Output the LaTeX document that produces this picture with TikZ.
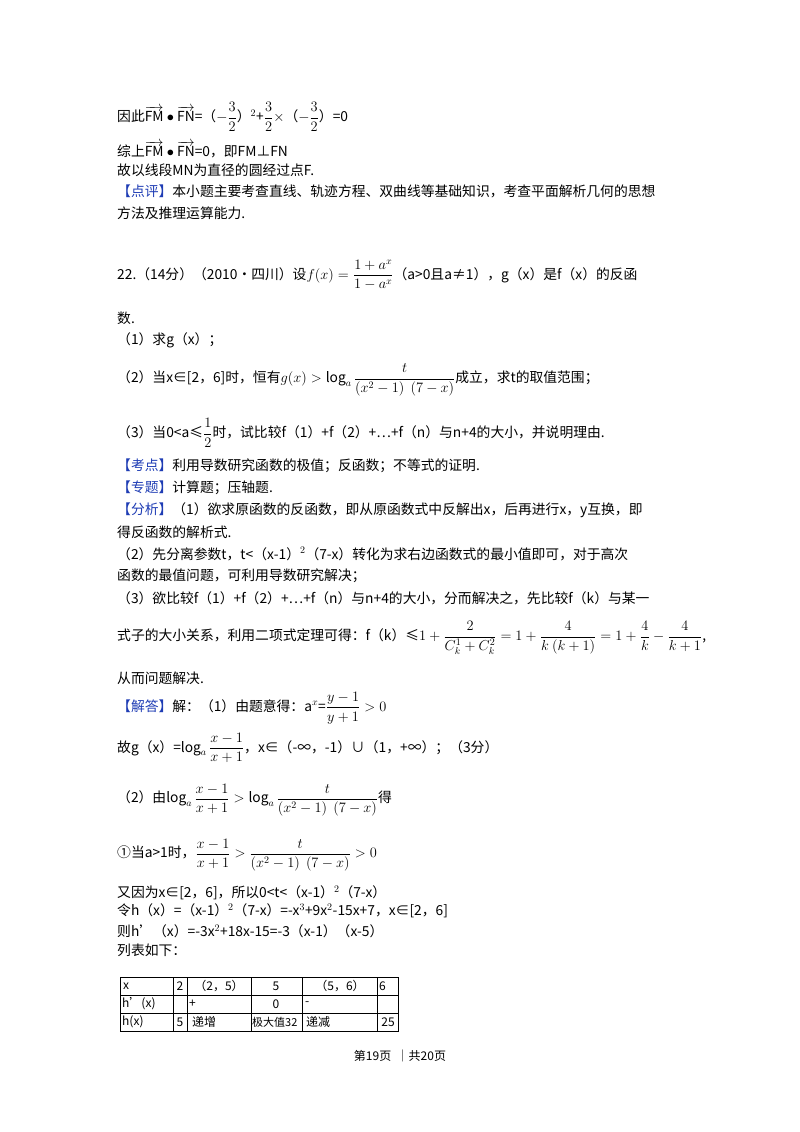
\documentclass[tikz,border=0pt]{standalone}
\usepackage{amsmath}
\usepackage{fontspec}
\setmainfont{Noto Sans CJK SC}
\begin{document}
\begin{tikzpicture}[x=1pt,y=-1pt,
  t/.style={anchor=west,inner sep=0pt,font=\fontsize{13.8}{16}\selectfont},
  tb/.style={anchor=west,inner sep=0pt,font=\fontsize{12}{14}\selectfont},
  c/.style={anchor=center,inner sep=0pt,font=\fontsize{12}{14}\selectfont}]
\useasboundingbox (0,0) rectangle (800,1132);
\newcommand{\fr}[2]{\dfrac{#1}{#2}}
\node[t] (l1) at (117,117) {因此$\overrightarrow{\mathrm{FM}}\bullet\overrightarrow{\mathrm{FN}}$=（$-\fr32$）$^2$+$\fr32\times$（$-\fr32$）=0};
\node[t] (l2) at (117,150) {综上$\overrightarrow{\mathrm{FM}}\bullet\overrightarrow{\mathrm{FN}}$=0，即FM⊥FN};
\node[t] (l3) at (117,170) {故以线段MN为直径的圆经过点F.};
\node[t] (l4) at (117,191) {\color[HTML]{1E3CB4}【点评】\color{black}本小题主要考查直线、轨迹方程、双曲线等基础知识，考查平面解析几何的思想};
\node[t] (l5) at (117,213) {方法及推理运算能力.};
\node[t] (l6) at (117,275) {22.（14分）（2010•四川）设$f(x)=\fr{1+a^x}{1-a^x}$（a>0且a≠1），g（x）是f（x）的反函};
\node[t] (l7) at (117,318) {数.};
\node[t] (l8) at (117,340) {（1）求g（x）；};
\node[t] (l9) at (117,380) {（2）当x∈[2，6]时，恒有$g(x)>\log_a\fr{t}{(x^2-1)\ \ (7-x)}$成立，求t的取值范围；};
\node[t] (l10) at (117,433) {（3）当0<a≤$\fr12$时，试比较f（1）+f（2）+…+f（n）与n+4的大小，并说明理由.};
\node[t] (l11) at (117,466) {\color[HTML]{1E3CB4}【考点】\color{black}利用导数研究函数的极值；反函数；不等式的证明.};
\node[t] (l12) at (117,488) {\color[HTML]{1E3CB4}【专题】\color{black}计算题；压轴题.};
\node[t] (l13) at (117,510) {\color[HTML]{1E3CB4}【分析】\color{black}（1）欲求原函数的反函数，即从原函数式中反解出x，后再进行x，y互换，即};
\node[t] (l14) at (117,532) {得反函数的解析式.};
\node[t] (l15) at (117,554) {（2）先分离参数t，t<（x-1）$^2$（7-x）转化为求右边函数式的最小值即可，对于高次};
\node[t] (l16) at (117,576) {函数的最值问题，可利用导数研究解决；};
\node[t] (l17) at (117,598) {（3）欲比较f（1）+f（2）+…+f（n）与n+4的大小，分而解决之，先比较f（k）与某一};
\node[t] (l18) at (117,638) {式子的大小关系，利用二项式定理可得：f（k）≤$1+\fr{2}{C_k^1+C_k^2}=1+\fr{4}{k\ (k+1)}=1+\fr4k-\fr{4}{k+1}$,};
\node[t] (l19) at (117,678) {从而问题解决.};
\node[t] (l20) at (117,708) {\color[HTML]{1E3CB4}【解答】\color{black}解：（1）由题意得：a$^x$=$\fr{y-1}{y+1}>0$};
\node[t] (l21) at (117,748) {故g（x）=$\log_a\fr{x-1}{x+1}$，x∈（-∞，-1）∪（1，+∞）；（3分）};
\node[t] (l22) at (117,800) {（2）由$\log_a\fr{x-1}{x+1}>\log_a\fr{t}{(x^2-1)\ \ (7-x)}$得};
\node[t] (l23) at (117,855) {①当a>1时，$\fr{x-1}{x+1}>\fr{t}{(x^2-1)\ \ (7-x)}>0$};
\node[t] (l24) at (117,893) {又因为x∈[2，6]，所以0<t<（x-1）$^2$（7-x）};
\node[t] (l25) at (117,911) {令h（x）=（x-1）$^2$（7-x）=-x$^3$+9x$^2$-15x+7，x∈[2，6]};
\node[t] (l26) at (117,931) {则h'（x）=-3x$^2$+18x-15=-3（x-1）（x-5）};
\node[t] (l27) at (117,950) {列表如下：};
% table
\draw[line width=0.6pt] (120,977) rectangle (398,1031);
\foreach \yy in {995,1013} \draw[line width=0.6pt] (120,\yy) -- (398,\yy);
\foreach \xx in {173,187,251,302,377} \draw[line width=0.6pt] (\xx,977) -- (\xx,1031);
\node[tb] (a1) at (123,986) {x};
\node[c] (a2) at (180,986) {2};
\node[c] (a3) at (219,986) {（2，5）};
\node[c] (a4) at (276,986) {5};
\node[c] (a5) at (340,986) {（5，6）};
\node[tb] (a6) at (379,986) {6};
\node[tb] (b1) at (122,1004) {h'(x)};
\node[tb] (b3) at (189,1004) {+};
\node[c] (b4) at (276,1004) {0};
\node[tb] (b5) at (305,1004) {-};
\node[tb] (c1) at (122,1022) {h(x)};
\node[c] (c2) at (180,1022) {5};
\node[tb] (c3) at (192,1022) {递增};
\node[tb] (c4) at (252,1022) {\fontsize{11}{13}\selectfont 极大值32};
\node[tb] (c5) at (306,1022) {递减};
\node[c] (c6) at (388,1022) {25};
\node[c] (foot) at (400,1056) {第19页 \ ｜共20页};
\end{tikzpicture}
\end{document}
